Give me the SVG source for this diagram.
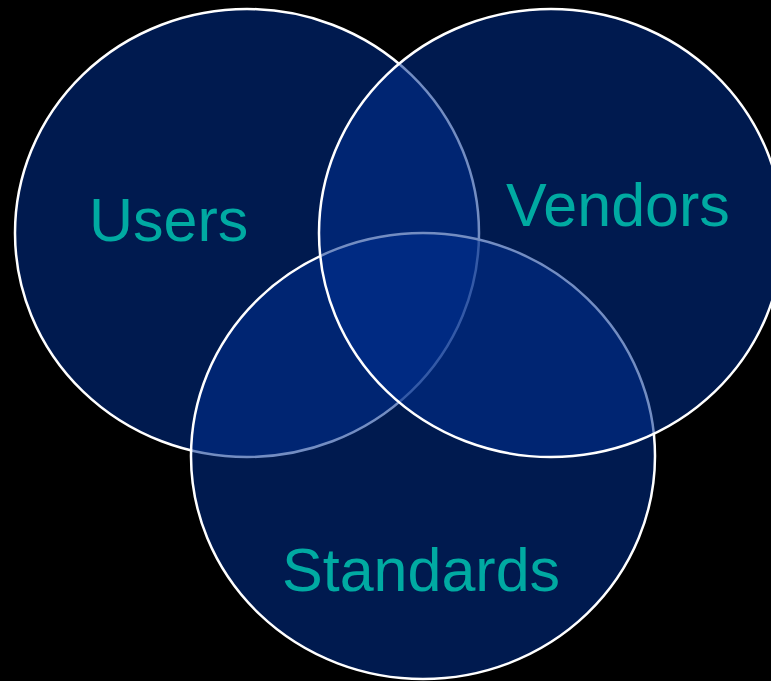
<svg xmlns="http://www.w3.org/2000/svg" width="771" height="681" viewBox="0 0 771 681">
  <style>
    .circ { fill: #002f8f; fill-opacity: 0.55; stroke: #ffffff; stroke-width: 2.5; }
    .lbl { font-family: "Liberation Sans", Arial, sans-serif; font-size: 61px; fill: #00aaa2; }
  </style>
  <rect x="0" y="0" width="771" height="681" fill="#000000"/>
  <g id="users">
    <ellipse class="circ" cx="247" cy="233" rx="232" ry="224"/>
    <text class="lbl" x="89" y="241">Users</text>
  </g>
  <g id="standards">
    <ellipse class="circ" cx="423" cy="456" rx="232" ry="223"/>
    <text class="lbl" x="282" y="591">Standards</text>
  </g>
  <g id="vendors">
    <ellipse class="circ" cx="551" cy="233" rx="232" ry="224"/>
    <text class="lbl" x="506" y="226">Vendors</text>
  </g>
  <g id="connectors"></g>
</svg>
